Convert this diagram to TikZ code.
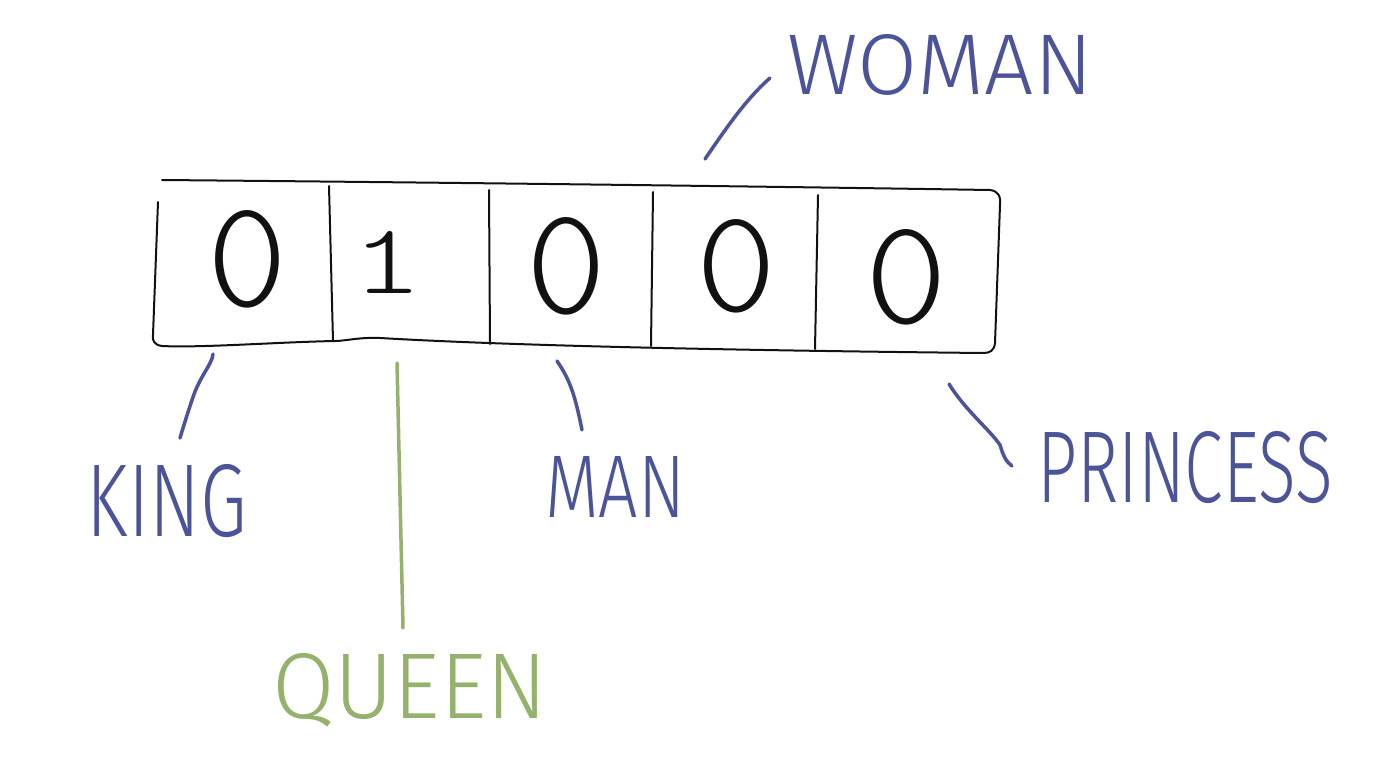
\documentclass[tikz,border=0pt]{standalone}
\usepackage{fontspec}
\usepackage{graphicx}
\newfontfamily\handfont{Fira Sans Light}
\newfontfamily\digitfont{lmmonolt10-regular.otf}
\definecolor{inkblue}{HTML}{4B5399}
\definecolor{inkgreen}{HTML}{94B26C}
\definecolor{inkblack}{HTML}{111111}
\begin{document}
\begin{tikzpicture}[x=1pt,y=-1pt,
  boxline/.style={draw=inkblack,line width=2pt,line cap=round,line join=round},
  bluestroke/.style={draw=inkblue,line width=3.5pt,line cap=round},
  greenstroke/.style={draw=inkgreen,line width=3.5pt,line cap=round},
  lbl/.style={inner sep=0pt,text=inkblue,font=\handfont},
  glbl/.style={inner sep=0pt,text=inkgreen,font=\handfont},
  digit/.style={inner sep=0pt,text=inkblack,font=\digitfont}]
\useasboundingbox[fill=white] (0,0) rectangle (1400,760);
% the vector box
\draw[boxline] (162,180) .. controls (500,183) and (800,187) .. (990,190)
  .. controls (998,191) and (1001,196) .. (1000,205) -- (995,343)
  .. controls (994,351) and (990,353) .. (983,353)
  .. controls (700,350) and (500,345) .. (380,338)
  .. controls (360,337) and (345,341) .. (335,341)
  .. controls (280,342) and (200,348) .. (162,346)
  .. controls (154,345) and (152,340) .. (153,335) -- (158,202);
\draw[boxline] (329,186) -- (333,341);
\draw[boxline] (489,190) -- (490,344);
\draw[boxline] (653,192) -- (651,346);
\draw[boxline] (818,195) -- (815,349);
% digits
\node[digit] (c1) at (247,259) {\resizebox{80pt}{96pt}{0}};
\node[digit] (c2) at (387,262) {\resizebox{72pt}{62pt}{1}};
\node[digit] (c3) at (566,266) {\resizebox{80pt}{96pt}{0}};
\node[digit] (c4) at (736,266) {\resizebox{80pt}{92pt}{0}};
\node[digit] (c5) at (906,277) {\resizebox{82pt}{94pt}{0}};
% labels
\node[lbl] (woman) at (940,65) {\resizebox{305pt}{60pt}{WOMAN}};
\node[lbl] (king) at (167,501) {\resizebox{160pt}{72pt}{KING}};
\node[lbl] (man) at (615,487) {\resizebox{140pt}{61pt}{MAN}};
\node[lbl] (princess) at (1185,468) {\resizebox{295pt}{71pt}{PRINCESS}};
\node[glbl] (queen) at (410,690) {\resizebox{275pt}{65pt}{QUEEN}};
% connector ends
\coordinate (w1) at (705,159); \coordinate (w2) at (770,78);
\coordinate (k1) at (213,354); \coordinate (k2) at (180,438);
\coordinate (m1) at (557,361); \coordinate (m2) at (582,430);
\coordinate (p1) at (949,384); \coordinate (p2) at (1012,466);
\coordinate (q1) at (397,363); \coordinate (q2) at (403,628);
\draw[bluestroke] (w1) .. controls (725,130) and (745,100) .. (w2);
\draw[bluestroke] (k1) .. controls (212,365) and (200,375) .. (192,400) .. controls (187,415) and (183,428) .. (k2);
\draw[bluestroke] (m1) .. controls (570,380) and (575,395) .. (m2);
\draw[bluestroke] (p1) .. controls (965,410) and (990,430) .. (1000,445) .. controls (1003,455) and (1006,462) .. (p2);
\draw[greenstroke] (q1) -- (q2);
\end{tikzpicture}
\end{document}
